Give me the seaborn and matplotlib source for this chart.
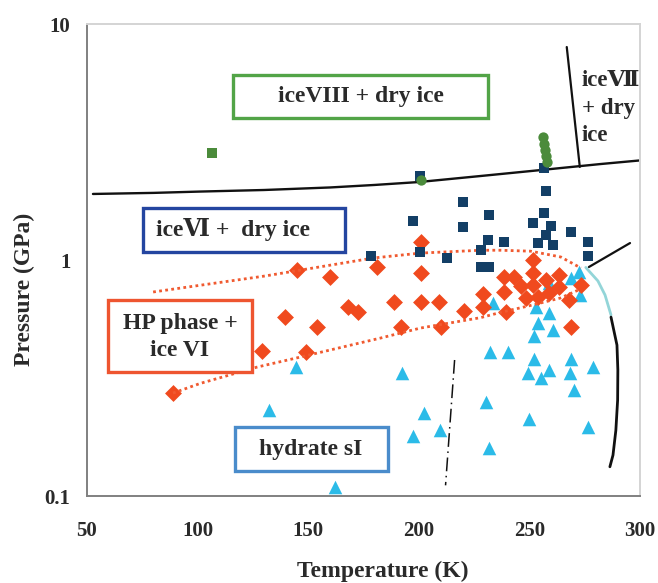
import numpy as np
import pandas as pd
import seaborn as sns
import matplotlib.pyplot as plt
from matplotlib.patches import Rectangle
from matplotlib.ticker import FixedLocator, NullLocator, FixedFormatter

# --- data (T in K, P in GPa) ---
# hydrate sI (cyan triangles)
tri_T = [161.9, 132.4, 144.7, 192.2, 202.2, 197.2, 209.4, 231.6, 230.3, 232.0,
         240.2, 249.7, 249.3, 252.0, 255.2, 258.8, 268.8, 268.3, 270.1, 278.7,
         276.4, 258.8, 253.8, 260.6, 252.0, 252.9, 233.4, 268.8, 272.4, 272.8,
         258.8]
tri_P = [0.109, 0.231, 0.352, 0.332, 0.225, 0.180, 0.190, 0.160, 0.250, 0.408,
         0.408, 0.212, 0.332, 0.381, 0.316, 0.342, 0.381, 0.332, 0.281, 0.352,
         0.196, 0.596, 0.541, 0.505, 0.477, 0.632, 0.658, 0.839, 0.890, 0.711,
         0.799]

# HP phase + ice VI (red diamonds)
dia_T = [89.0, 129.3, 139.7, 149.2, 154.2, 145.1, 160.0, 168.2, 172.7, 181.3,
         200.8, 200.8, 188.6, 200.8, 209.0, 191.8, 209.9, 220.3, 228.9, 228.9,
         238.4, 242.9, 238.4, 239.3, 251.5, 251.5, 251.5, 248.4, 253.8, 263.3,
         263.3, 258.8, 267.8, 273.3, 268.8, 246.1, 257.4]
dia_P = [0.273, 0.410, 0.573, 0.408, 0.520, 0.907, 0.847, 0.632, 0.602, 0.934,
         1.190, 0.881, 0.664, 0.664, 0.664, 0.520, 0.520, 0.608, 0.718, 0.632,
         0.847, 0.847, 0.732, 0.602, 1.000, 0.881, 0.784, 0.690, 0.697, 0.864,
         0.768, 0.725, 0.677, 0.784, 0.520, 0.776, 0.823]

# ice VI + dry ice (navy squares)
sq_T = [200.4, 256.5, 257.4, 219.8, 197.6, 219.8, 231.6, 256.5, 251.5, 259.7,
        268.8, 276.4, 276.4, 231.2, 238.4, 228.0, 257.4, 253.8, 260.6, 200.4,
        212.6, 178.2, 228.0, 231.6]
sq_P = [2.27, 2.45, 1.96, 1.76, 1.46, 1.38, 1.55, 1.58, 1.44, 1.39,
        1.31, 1.19, 1.04, 1.22, 1.19, 1.10, 1.28, 1.18, 1.16, 1.08,
        1.02, 1.04, 0.934, 0.934]

# ice VIII + dry ice (green)
gsq_T = [106.6]
gsq_P = [2.84]
gci_T = [200.8, 256.1, 256.5, 257.0, 257.4, 257.9]
gci_P = [2.18, 3.32, 3.10, 2.92, 2.76, 2.60]

# phase boundaries
b68_T = [52.7, 80.0, 101.0, 130.0, 160.0, 180.0, 200.0, 228.0, 256.0, 282.0, 299.5]
b68_P = [1.905, 1.925, 1.95, 1.98, 2.03, 2.08, 2.14, 2.27, 2.41, 2.55, 2.64]
b78_T = [266.9, 272.8]
b78_P = [7.99, 2.48]
bR_T = [276.9, 295.5]
bR_P = [0.934, 1.18]
melt_cy_T = [275.5, 281.0, 284.2, 286.9]
melt_cy_P = [0.93, 0.815, 0.711, 0.585]
melt_T = [286.9, 289.6, 290.0, 289.9, 289.1, 287.8, 286.4]
melt_P = [0.573, 0.436, 0.342, 0.255, 0.190, 0.149, 0.133]
dd_T = [216.2, 212.1]
dd_P = [0.377, 0.111]
hp_up_T = [79.9, 130.6, 179.5, 200.8, 228.0, 237.0, 250.6, 264.2, 273.3]
hp_up_P = [0.732, 0.856, 1.02, 1.07, 1.10, 1.10, 1.09, 1.03, 0.925]
hp_lo_T = [88.9, 101.2, 127.0, 146.5, 182.7, 200.8, 228.0, 237.0, 250.0, 264.0, 272.0]
hp_lo_P = [0.273, 0.30, 0.352, 0.388, 0.467, 0.515, 0.57, 0.60, 0.64, 0.69, 0.745]

x_ticks = [50, 100, 150, 200, 250, 300]
y_ticks = [0.1, 1, 10]
y_tick_labels = ['0.1', '1', '10']

sns.set_style('white')
plt.rcParams['font.family'] = ['Liberation Serif', 'DejaVu Serif']
plt.rcParams['font.weight'] = 'bold'
TXT = '#2a2a2a'

fig = plt.figure(figsize=(6.58, 5.83), dpi=100)
ax = fig.add_axes([0.1322, 0.1492, 0.8404, 0.8096])


def line(T, P, **kw):
    sns.lineplot(x=T, y=P, sort=False, estimator=None, ax=ax, legend=False, **kw)


line(b68_T, b68_P, color='#111111', lw=1.7)
line(b78_T, b78_P, color='#111111', lw=1.6)
line(bR_T, bR_P, color='#111111', lw=1.6)
line(melt_cy_T, melt_cy_P, color='#93d5d8', lw=2.0)
line(melt_T, melt_P, color='#111111', lw=2.0)
line(dd_T, dd_P, color='#111111', lw=1.1, linestyle=(0, (9, 3, 1, 3)))

sns.scatterplot(x=tri_T, y=tri_P, marker='^', s=95, color='#2bbbe8', linewidth=0, ax=ax, zorder=3)
sns.scatterplot(x=dia_T, y=dia_P, marker='D', s=74, color='#f04a1e', linewidth=0, ax=ax, zorder=4)
line(hp_up_T, hp_up_P, color='#f05a30', lw=2.0, linestyle=(0, (1, 1.2)), zorder=4.5)
line(hp_lo_T, hp_lo_P, color='#f05a30', lw=2.0, linestyle=(0, (1, 1.2)), zorder=4.5)
sns.scatterplot(x=sq_T, y=sq_P, marker='s', s=60, color='#133f66', linewidth=0, ax=ax, zorder=5)
sns.scatterplot(x=gsq_T, y=gsq_P, marker='s', s=55, color='#4b8b3b', linewidth=0, ax=ax, zorder=5)
sns.scatterplot(x=gci_T, y=gci_P, marker='o', s=55, color='#4b8b3b', linewidth=0, ax=ax, zorder=6)

ax.set_yscale('log')
ax.set_xlim(50, 300)
ax.set_ylim(0.1, 10)
ax.set_xticks(x_ticks)
ax.yaxis.set_major_locator(FixedLocator(y_ticks))
ax.yaxis.set_major_formatter(FixedFormatter(y_tick_labels))
ax.yaxis.set_minor_locator(NullLocator())
ax.tick_params(axis='both', direction='in', length=6, width=1.2, color='#777777',
               labelsize=15, labelcolor=TXT)
ax.tick_params(axis='x', pad=18)
ax.tick_params(axis='y', pad=12)
for lab in ax.get_xticklabels() + ax.get_yticklabels():
    lab.set_fontweight('bold')
ax.set_xlabel('')
ax.set_ylabel('')

for side in ['left', 'bottom']:
    ax.spines[side].set_color('#808080')
    ax.spines[side].set_linewidth(1.4)
for side in ['top', 'right']:
    ax.spines[side].set_color('#d4d4d4')
    ax.spines[side].set_linewidth(1.4)

fig.text(0.581, 0.038, 'Temperature (K)', ha='center', va='top', fontsize=17,
         fontweight='bold', color=TXT)
fig.text(0.037, 0.504, 'Pressure (GPa)', ha='center', va='center', rotation=90,
         fontsize=17, fontweight='bold', color=TXT)

# labelled region boxes (axes fraction)
boxes = [
    (0.264, 0.801, 0.461, 0.091, '#52a447'),
    (0.101, 0.517, 0.366, 0.093, '#2445a0'),
    (0.038, 0.263, 0.260, 0.152, '#ee5530'),
    (0.268, 0.053, 0.276, 0.093, '#4a8ccb'),
]
for x0, y0, w, h, c in boxes:
    ax.add_patch(Rectangle((x0, y0), w, h, transform=ax.transAxes, fill=True,
                           fc='white', ec=c, lw=2.4, zorder=7))

ax.text(0.4946, 0.846, 'iceVIII + dry ice', transform=ax.transAxes, ha='center',
        va='center', fontsize=17, fontweight='bold', color=TXT, zorder=8)
ax.text(0.1248, 0.5636, 'iceⅥ +  dry ice', transform=ax.transAxes, ha='left',
        va='center', fontsize=17, fontweight='bold', color=TXT, zorder=8)
ax.text(0.168, 0.337, 'HP phase +\nice VI', transform=ax.transAxes, ha='center',
        va='center', fontsize=17, fontweight='bold', color=TXT, linespacing=1.35,
        zorder=8)
ax.text(0.405, 0.0996, 'hydrate sI', transform=ax.transAxes, ha='center',
        va='center', fontsize=17, fontweight='bold', color=TXT, zorder=8)
ax.text(0.895, 0.822, 'iceⅦ\n+ dry\nice', transform=ax.transAxes, ha='left',
        va='center', fontsize=16.5, fontweight='bold', color=TXT, linespacing=1.4,
        zorder=8)

fig.savefig('out.png', dpi=100)
